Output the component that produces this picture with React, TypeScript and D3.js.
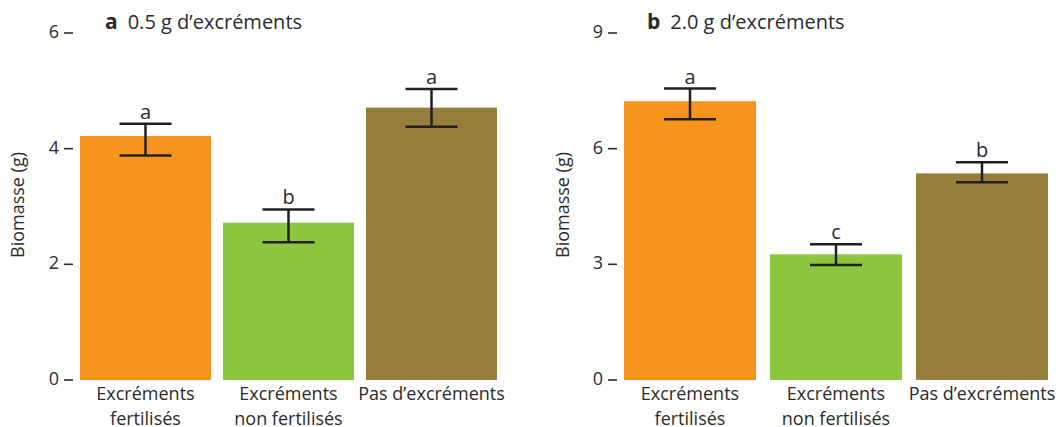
import React from "react";
import * as d3 from "d3";

const categories = ["Excréments fertilisés", "Excréments non fertilisés", "Pas d’excréments"];
const categoryLines = [["Excréments", "fertilisés"], ["Excréments", "non fertilisés"], ["Pas d’excréments"]];
const colors = ["#F7941E", "#8CC63F", "#967E3B"];

const panelTitlesBold = ["a", "b"];
const panelTitles = ["0.5 g d’excréments", "2.0 g d’excréments"];

const valuesA = [4.22, 2.72, 4.71];
const errLowA = [3.88, 2.38, 4.38];
const errHighA = [4.43, 2.95, 5.03];
const lettersA = ["a", "b", "a"];
const ticksA = [0, 2, 4, 6];

const valuesB = [7.23, 3.26, 5.36];
const errLowB = [6.76, 2.98, 5.13];
const errHighB = [7.56, 3.52, 5.65];
const lettersB = ["a", "c", "b"];
const ticksB = [0, 3, 6, 9];

const FONT = "'Open Sans', 'Noto Sans', sans-serif";
const TEXT = "#2b2b2b";

type PanelProps = {
  values: number[];
  lo: number[];
  hi: number[];
  letters: string[];
  ticks: number[];
  x0: number;
  x1: number;
  gap: number;
  tickX: number;
  labelX: number;
  titleX: number;
  bold: string;
  title: string;
};

function Panel(p: PanelProps) {
  const yMax = p.ticks[p.ticks.length - 1];
  const y = d3.scaleLinear().domain([0, yMax]).range([380, 33]);
  const step = (p.x1 - p.x0 + p.gap) / 3;
  const x = d3
    .scaleBand<string>()
    .domain(categories)
    .range([p.x0, p.x1])
    .paddingInner(p.gap / step)
    .paddingOuter(0);
  const bw = x.bandwidth();
  return (
    <g>
      <text x={p.titleX} y={29} fontFamily={FONT} fontSize={20} fill={TEXT}>
        <tspan fontWeight="bold" fontSize={21}>{p.bold}</tspan>
        <tspan dx={10}>{p.title}</tspan>
      </text>
      <text
        transform={`translate(${p.labelX},205) rotate(-90)`}
        textAnchor="middle"
        fontFamily={FONT}
        fontSize={18}
        fill={TEXT}
        dominantBaseline="central"
      >
        Biomasse (g)
      </text>
      {p.ticks.map((t) => (
        <g key={t}>
          <text
            x={p.tickX - 5}
            y={y(t) - 2}
            textAnchor="end"
            dominantBaseline="central"
            fontFamily={FONT}
            fontSize={18}
            fill={TEXT}
          >
            {t}
          </text>
          <line x1={p.tickX} x2={p.tickX + 9} y1={y(t)} y2={y(t)} stroke={TEXT} strokeWidth={1.6} />
        </g>
      ))}
      {categories.map((c, i) => {
        const bx = x(c)!;
        const cx = bx + bw / 2;
        return (
          <g key={c}>
            <rect x={bx} y={y(p.values[i])} width={bw} height={y(0) - y(p.values[i])} fill={colors[i]} />
            <line x1={cx} x2={cx} y1={y(p.hi[i])} y2={y(p.lo[i])} stroke="#231f20" strokeWidth={2.5} />
            <line x1={cx - 26} x2={cx + 26} y1={y(p.hi[i])} y2={y(p.hi[i])} stroke="#231f20" strokeWidth={2.5} />
            <line x1={cx - 26} x2={cx + 26} y1={y(p.lo[i])} y2={y(p.lo[i])} stroke="#231f20" strokeWidth={2.5} />
            <text
              x={cx}
              y={y(p.hi[i]) - 5}
              textAnchor="middle"
              fontFamily={FONT}
              fontSize={20}
              fill={TEXT}
            >
              {p.letters[i]}
            </text>
            {categoryLines[i].map((l, k) => (
              <text
                key={k}
                x={cx}
                y={400 + k * 25}
                textAnchor="middle"
                fontFamily={FONT}
                fontSize={18}
                fill={TEXT}
              >
                {l}
              </text>
            ))}
          </g>
        );
      })}
    </g>
  );
}

export default function App() {
  return (
    <div style={{ position: "absolute", left: 0, top: 0 }}>
      <svg width={1059} height={427} style={{ display: "block", background: "#fff" }}>
        <Panel
          values={valuesA}
          lo={errLowA}
          hi={errHighA}
          letters={lettersA}
          ticks={ticksA}
          x0={80}
          x1={497}
          gap={12}
          tickX={64}
          labelX={17}
          titleX={105}
          bold={panelTitlesBold[0]}
          title={panelTitles[0]}
        />
        <Panel
          values={valuesB}
          lo={errLowB}
          hi={errHighB}
          letters={lettersB}
          ticks={ticksB}
          x0={624}
          x1={1048}
          gap={14}
          tickX={608}
          labelX={562}
          titleX={647}
          bold={panelTitlesBold[1]}
          title={panelTitles[1]}
        />
      </svg>
    </div>
  );
}
